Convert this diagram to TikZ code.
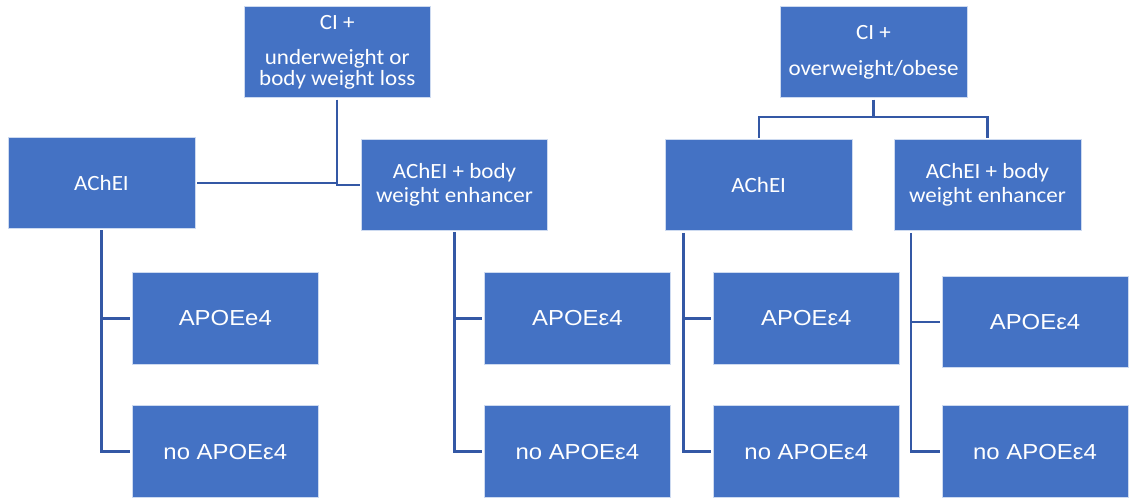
\documentclass[tikz,border=0pt]{standalone}
\usepackage{fontspec}
\newfontfamily\boxfont[FakeStretch=1.06]{Carlito}
\newfontfamily\apofont[FakeStretch=1.1]{Liberation Sans}
\definecolor{boxfill}{RGB}{68,114,196}
\definecolor{boxedge}{RGB}{205,218,240}
\definecolor{linkcol}{RGB}{52,88,165}
\begin{document}
\begin{tikzpicture}[x=0.75pt,y=-0.75pt,
  box/.style={rectangle, fill=boxfill, draw=boxedge, line width=0.75pt,
    text=white, inner sep=0pt, outer sep=1.5pt, align=center,
    font=\boxfont\fontsize{16.3}{18}\selectfont},
  apo/.style={box, font=\apofont\fontsize{16.3}{18}\selectfont},
  sz/.style 2 args={minimum width=#1*0.75pt, minimum height=#2*0.75pt},
  link/.style={draw=linkcol, line width=1.8pt}]
\useasboundingbox (0,0) rectangle (1129,498);

% top level
\node[box, sz={186.5}{90.7}] (ci1) at (337.25,52.35) {CI +\\[8.8pt]underweight or\\[-2.25pt]body weight loss};
\node[box, sz={187}{90.7}] (ci2) at (873.5,52.35) {CI +\\[9pt]overweight/obese};

% second level
\node[box, sz={187}{91}] (a1) at (101.5,183) {AChEI};
\node[box, sz={186}{91}] (b1) at (454.5,185) {AChEI + body\\weight enhancer};
\node[box, sz={186.5}{91}] (a2) at (758.75,185.5) {AChEI};
\node[box, sz={187}{90.5}] (b2) at (987.5,185.25) {AChEI + body\\weight enhancer};

% third level
\node[apo, sz={186.6}{91.6}] (p1) at (225.3,318.5) {APOEe4};
\node[apo, sz={186.6}{91.3}] (n1) at (225.3,451.65) {no APOEε4};
\node[apo, sz={186.7}{91.6}] (p2) at (577.35,318.5) {APOEε4};
\node[apo, sz={186.7}{91.3}] (n2) at (577.35,451.65) {no APOEε4};
\node[apo, sz={186.6}{91.6}] (p3) at (806.3,318.5) {APOEε4};
\node[apo, sz={186.6}{91.3}] (n3) at (806.3,451.65) {no APOEε4};
\node[apo, sz={186}{90.6}] (p4) at (1035,322) {APOEε4};
\node[apo, sz={186}{91.3}] (n4) at (1035,451.65) {no APOEε4};

% connectors, left tree
\draw[link] (ci1.south) |- (b1.west);
\draw[link] (a1.east) -- (a1.east -| ci1.south);

% connectors, right tree
\coordinate (j2) at (873.5,117.3);
\draw[link] (ci2.south) -- (j2);
\draw[link] (a2.north) |- (j2) -| (b2.north);

% columns
\draw[link] (a1.south) |- (n1.west);
\draw[link] (a1.south |- p1.west) -- (p1.west);
\draw[link] (b1.south) |- (n2.west);
\draw[link] (b1.south |- p2.west) -- (p2.west);
\coordinate (c3) at (683.4,233);
\draw[link] (c3) |- (n3.west);
\draw[link] (c3 |- p3.west) -- (p3.west);
\coordinate (c4) at (911.2,233);
\draw[link] (c4) |- (n4.west);
\draw[link] (c4 |- p4.west) -- (p4.west);
\end{tikzpicture}
\end{document}
